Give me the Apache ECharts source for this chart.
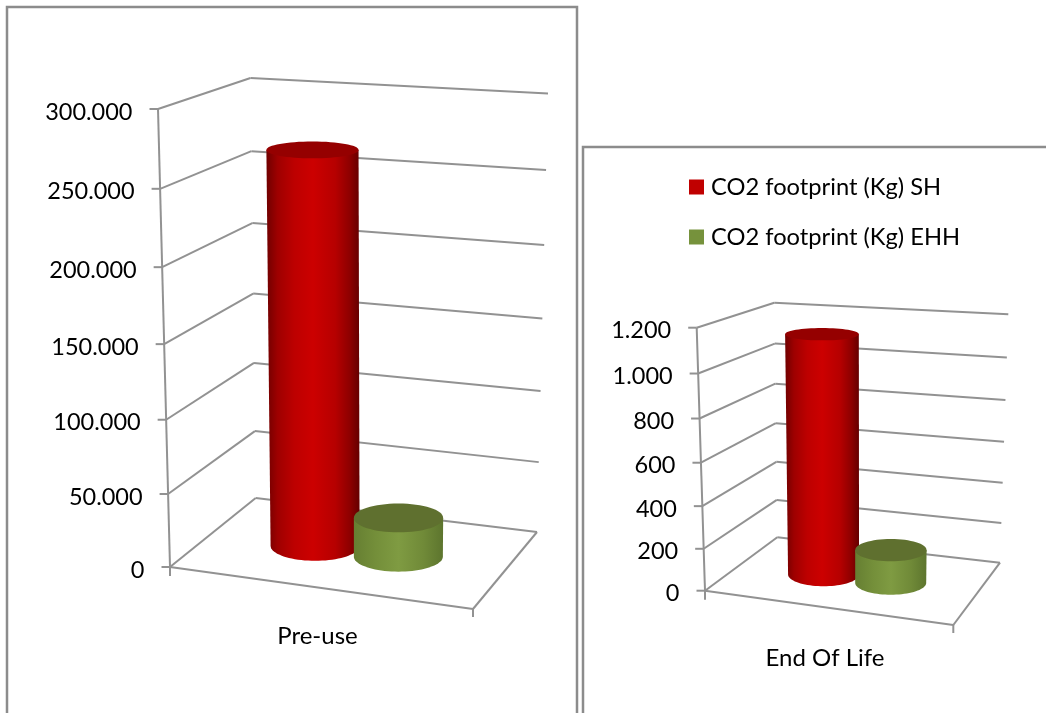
<!DOCTYPE html>
<html>
<head>
<meta charset="utf-8">
<style>html,body{margin:0;padding:0;background:#fff}#c{width:1046px;height:713px}</style>
<script src="https://cdn.jsdelivr.net/npm/echarts@6/dist/echarts.min.js"></script>
</head>
<body>
<div id="c"></div>
<script>
// Series names shared by both charts
const seriesSH = 'CO2 footprint (Kg) SH';
const seriesEHH = 'CO2 footprint (Kg) EHH';

// Pre-use chart
const preUseCategories = ['Pre-use'];
const preUseSH = [268000];
const preUseEHH = [27000];
const preUseTicks = [0, 50000, 100000, 150000, 200000, 250000, 300000];
const preUseTickLabels = ['0', '50.000', '100.000', '150.000', '200.000', '250.000', '300.000'];

// End Of Life chart
const endOfLifeCategories = ['End Of Life'];
const endOfLifeSH = [1140];
const endOfLifeEHH = [160];
const endOfLifeTicks = [0, 200, 400, 600, 800, 1000, 1200];
const endOfLifeTickLabels = ['0', '200', '400', '600', '800', '1.000', '1.200'];

const FONT = 'Lato, "Open Sans", sans-serif';
const LINE = '#929292';
const TEXT = '#000';

// Box corners of each 3D plot: [x, y] for front/back, left/right, floor/ceiling
const preUseBox = {
  floor: { fl: [170, 567], bl: [255.7, 498], br: [537, 532], fr: [473, 609] },
  ceil: { fl: [158, 109], bl: [250.5, 78], br: [548, 93.5], fr: [477, 131] },
  radiusX: 44.5, radiusY: 15
};
const endOfLifeBox = {
  floor: { fl: [705, 590.7], bl: [777.3, 537.3], br: [1000, 562.7], fr: [953.3, 625] },
  ceil: { fl: [696.7, 327.7], bl: [774.3, 302.7], br: [1008.3, 314.3], fr: [956.3, 348] },
  radiusX: 35.5, radiusY: 11.8
};

const mix = (a, b, t) => [a[0] + (b[0] - a[0]) * t, a[1] + (b[1] - a[1]) * t];
// Foreshortening of the value axis caused by the viewing angle
const foreshorten = w => w / (w + 1.055 * (1 - w));
// u: left to right, v: front to back, w: bottom to top, all in 0..1
function project(box, u, v, w) {
  const quad = q => mix(mix(q.fl, q.fr, u), mix(q.bl, q.br, u), v);
  return mix(quad(box.floor), quad(box.ceil), foreshorten(w));
}
// Turns a data point into the 0..1 fractions of its cartesian grid
function fractions(params, api, cat, val) {
  const p = api.coord([cat, val]);
  const g = params.coordSys;
  return { u: (p[0] - g.x) / g.width, w: (g.y + g.height - p[1]) / g.height, band: api.size([1, 0])[0] / g.width };
}

function seg(a, b) {
  return { type: 'line', shape: { x1: a[0], y1: a[1], x2: b[0], y2: b[1] }, style: { stroke: LINE, lineWidth: 2 }, silent: true };
}

// Walls, floor, tick marks and value labels
function frameItem(box, labels) {
  return function (params, api) {
    const f = fractions(params, api, 0, api.value(1));
    const w = f.w;
    const tick = project(box, 0, 0, w);
    const kids = [
      seg(tick, project(box, 0, 1, w)),
      seg(project(box, 0, 1, w), project(box, 1, 1, w)),
      seg([tick[0] - 8.5, tick[1]], tick),
      { type: 'text', style: { x: tick[0] - 25.5, y: tick[1] + 3, text: labels[params.dataIndex], fill: TEXT, font: '23.5px ' + FONT, align: 'right', verticalAlign: 'middle' }, silent: true }
    ];
    if (params.dataIndex === 0) {
      const fl = project(box, 0, 0, 0), fr = project(box, 1, 0, 0), br = project(box, 1, 1, 0);
      kids.push(seg(fl, project(box, 0, 0, 1)), seg(fl, fr), seg(fr, br),
        seg(fl, [fl[0], fl[1] + 9]), seg(fr, [fr[0], fr[1] + 8]));
    }
    return { type: 'group', children: kids };
  };
}

// One cylinder standing on the floor at mid depth
function cylinderItem(box, offset, sideStops, capColor) {
  return function (params, api) {
    const f = fractions(params, api, api.value(0), api.value(1));
    const u = f.u + offset * f.band;
    const base = project(box, u, 0.5, 0);
    const top = project(box, u, 0.5, f.w);
    const t = foreshorten(f.w);
    const rxB = box.radiusX, rxT = box.radiusX * (1 + 0.04 * t);
    const ryB = box.radiusY, ryT = box.radiusY * (1 - 0.5 * t);
    const pts = [[top[0] - rxT, top[1]], [top[0] + rxT, top[1]]];
    for (let i = 0; i <= 40; i++) {
      const a = Math.PI * i / 40;
      pts.push([base[0] + rxB * Math.cos(a), base[1] + ryB * Math.sin(a)]);
    }
    return {
      type: 'group',
      children: [
        { type: 'polygon', shape: { points: pts }, style: { fill: new echarts.graphic.LinearGradient(0, 0, 1, 0, sideStops) }, silent: true },
        { type: 'ellipse', shape: { cx: top[0], cy: top[1], rx: rxT, ry: ryT }, style: { fill: capColor }, silent: true }
      ]
    };
  };
}

const redStops = [
  { offset: 0, color: '#700000' }, { offset: 0.12, color: '#9e0000' }, { offset: 0.3, color: '#bd0000' },
  { offset: 0.5, color: '#cc0000' }, { offset: 0.74, color: '#b60000' }, { offset: 0.9, color: '#8c0000' }, { offset: 1, color: '#640000' }
];
const greenStops = [
  { offset: 0, color: '#667f32' }, { offset: 0.25, color: '#748f3a' }, { offset: 0.5, color: '#7f9b42' },
  { offset: 0.78, color: '#708a38' }, { offset: 1, color: '#5d752e' }
];

function makeGrid(i, rect, categories, max, interval, margin) {
  return {
    grid: Object.assign({ containLabel: false }, rect),
    xAxis: {
      type: 'category', gridIndex: i, data: categories,
      axisLine: { show: false }, axisTick: { show: false }, splitLine: { show: false },
      axisLabel: { color: TEXT, fontFamily: FONT, fontSize: 24, margin: margin }
    },
    yAxis: { type: 'value', gridIndex: i, min: 0, max: max, interval: interval, show: false }
  };
}
function makeSeries(i, box, ticks, labels, sh, ehh) {
  return [
    { type: 'custom', name: 'frame' + i, xAxisIndex: i, yAxisIndex: i, z: 1, silent: true, animation: false,
      data: ticks.map(v => [0, v]), encode: { x: 0, y: 1 }, renderItem: frameItem(box, labels) },
    { type: 'custom', name: seriesSH, xAxisIndex: i, yAxisIndex: i, z: 2, silent: true, animation: false,
      itemStyle: { color: '#c00000' }, data: sh.map((v, k) => [k, v]), encode: { x: 0, y: 1 },
      renderItem: cylinderItem(box, -0.15, redStops, '#950000') },
    { type: 'custom', name: seriesEHH, xAxisIndex: i, yAxisIndex: i, z: 3, silent: true, animation: false,
      itemStyle: { color: '#76923c' }, data: ehh.map((v, k) => [k, v]), encode: { x: 0, y: 1 },
      renderItem: cylinderItem(box, 0.135, greenStops, '#5f702f') }
  ];
}

const left = makeGrid(0, { left: 170, width: 295, top: 109, height: 458 }, preUseCategories, 300000, 50000, 57);
const right = makeGrid(1, { left: 705, width: 240, top: 327.7, height: 263 }, endOfLifeCategories, 1200, 200, 56);

const chart = echarts.init(document.getElementById('c'), null, { renderer: 'canvas' });
chart.setOption({
  backgroundColor: '#fff',
  animation: false,
  tooltip: { show: false },
  // Chart area frames; both run past the bottom edge of the page
  graphic: [
    { type: 'rect', shape: { x: 7, y: 7, width: 570, height: 720 }, style: { fill: 'none', stroke: '#8c8c8c', lineWidth: 2.5 }, silent: true, z: 0 },
    { type: 'rect', shape: { x: 583, y: 147, width: 480, height: 580 }, style: { fill: 'none', stroke: '#8c8c8c', lineWidth: 2.5 }, silent: true, z: 0 }
  ],
  legend: {
    orient: 'vertical', left: 689, top: 174, padding: 0, icon: 'rect', itemWidth: 15, itemHeight: 15, itemGap: 24, selectedMode: false,
    data: [seriesSH, seriesEHH],
    textStyle: { color: TEXT, fontFamily: FONT, fontSize: 23.7, padding: [1, 0, 0, 2], lineHeight: 25 }
  },
  grid: [left.grid, right.grid],
  xAxis: [left.xAxis, right.xAxis],
  yAxis: [left.yAxis, right.yAxis],
  series: [
    ...makeSeries(0, preUseBox, preUseTicks, preUseTickLabels, preUseSH, preUseEHH),
    ...makeSeries(1, endOfLifeBox, endOfLifeTicks, endOfLifeTickLabels, endOfLifeSH, endOfLifeEHH)
  ]
});
</script>
</body>
</html>
